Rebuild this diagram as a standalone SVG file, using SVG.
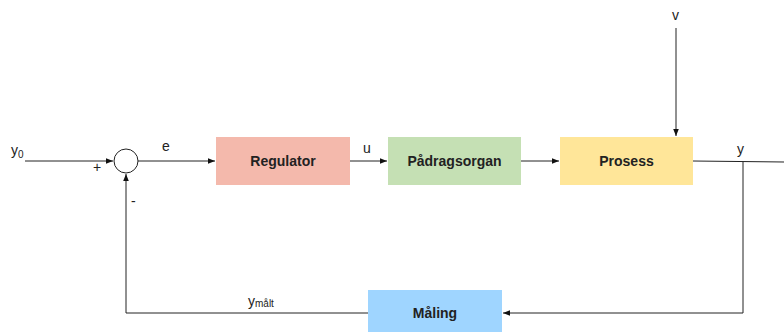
<svg xmlns="http://www.w3.org/2000/svg" width="784" height="332" viewBox="0 0 784 332">
<defs>
<style>
.box text{font-family:"Liberation Sans",Arial,sans-serif;font-weight:bold;font-size:14px;fill:#222;text-anchor:middle}
.lbl{font-family:"Liberation Sans",Arial,sans-serif;font-size:14px;fill:#222}
.ln{stroke:#222;stroke-width:1;fill:none}
</style>
<marker id="ah" viewBox="0 0 10 10" refX="10" refY="5" markerWidth="7" markerHeight="7" orient="auto" markerUnits="userSpaceOnUse">
<path d="M0,1 L10,5 L0,9 z" fill="#111"/>
</marker>
</defs>
<rect width="784" height="332" fill="#fff"/>
<g id="connectors">
<path class="ln" d="M25,161 L113,161" marker-end="url(#ah)"/>
<path class="ln" d="M138,161 L215,161" marker-end="url(#ah)"/>
<path class="ln" d="M350,161 L387,161" marker-end="url(#ah)"/>
<path class="ln" d="M521,161 L559,161" marker-end="url(#ah)"/>
<path class="ln" d="M676,28 L676,136" marker-end="url(#ah)"/>
<path class="ln" d="M693,161 L784,162"/>
<path class="ln" d="M743,162 L743,313 L503,313" marker-end="url(#ah)"/>
<path class="ln" d="M368,313 L126,313 L126,174" marker-end="url(#ah)"/>
</g>
<g id="sum">
<circle cx="126" cy="161" r="12" fill="#fff" stroke="#222" stroke-width="1"/>
</g>
<g id="regulator" class="box">
<rect x="216" y="137" width="134" height="48" fill="#f4b9ac"/>
<text x="283" y="166">Regulator</text>
</g>
<g id="padragsorgan" class="box">
<rect x="388" y="137" width="133" height="48" fill="#c5e0b4"/>
<text x="454.5" y="166">Pådragsorgan</text>
</g>
<g id="prosess" class="box">
<rect x="560" y="137" width="133" height="48" fill="#ffe699"/>
<text x="626.5" y="166">Prosess</text>
</g>
<g id="maling" class="box">
<rect x="368" y="290" width="134" height="42" fill="#9fd5ff"/>
<text x="435" y="318">Måling</text>
</g>
<g id="labels">
<text class="lbl" x="11" y="155">y<tspan font-size="10" dy="3">0</tspan></text>
<text class="lbl" x="162" y="151">e</text>
<text class="lbl" x="363" y="153">u</text>
<text class="lbl" x="672" y="20">v</text>
<text class="lbl" x="737" y="154">y</text>
<text class="lbl" x="93" y="172">+</text>
<text class="lbl" x="131" y="206">-</text>
<text class="lbl" x="248" y="306">y<tspan font-size="10" dy="1">målt</tspan></text>
</g>
</svg>
